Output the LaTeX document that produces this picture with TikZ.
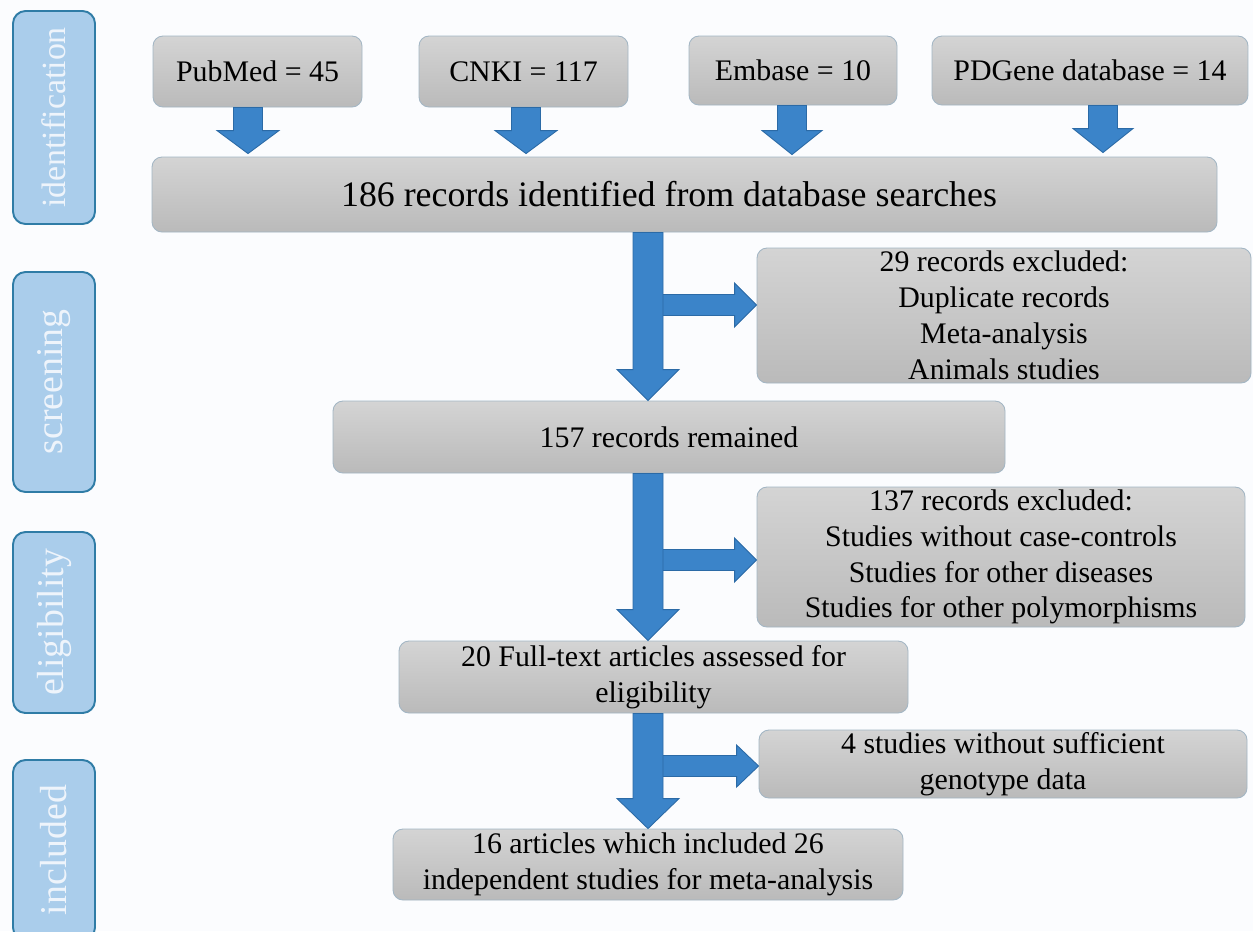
\documentclass[tikz,border=0pt]{standalone}
\usepackage{fontspec}
\setmainfont{Liberation Serif}
\usetikzlibrary{calc}
\definecolor{arrowblue}{HTML}{3B84C9}
\definecolor{arrowedge}{HTML}{2B6AA6}
\definecolor{boxtop}{HTML}{D4D4D4}
\definecolor{boxbot}{HTML}{BABABA}
\definecolor{boxedge}{HTML}{A3B6C4}
\definecolor{sidefill}{HTML}{AACDEB}
\definecolor{sideedge}{HTML}{2F7CA6}
\definecolor{sidetext}{HTML}{EEF4FB}
\definecolor{bgcol}{HTML}{FBFCFE}
\def\PX{0.02cm}
% down block arrow: #1 start, #2 tip, #3 shaft half width, #4 head half width, #5 head length
\newcommand\blkdown[5]{%
  \draw[blk] ($#1+(-#3,0)$) -- ($#2+(-#3,-#5)$) -- ($#2+(-#4,-#5)$) -- #2
    -- ($#2+(#4,-#5)$) -- ($#2+(#3,-#5)$) -- ($#1+(#3,0)$) -- cycle;}
% right block arrow
\newcommand\blkright[5]{%
  \draw[blk] ($#1+(0,-#3)$) -- ($#2+(-#5,-#3)$) -- ($#2+(-#5,-#4)$) -- #2
    -- ($#2+(-#5,#4)$) -- ($#2+(-#5,#3)$) -- ($#1+(0,#3)$) -- cycle;}
\begin{document}
\begin{tikzpicture}[x=0.02cm,y=-0.02cm,
  gbox/.style={draw=boxedge, line width=0.5pt, rounded corners=0.2cm,
    top color=boxtop, bottom color=boxbot, inner sep=0pt, align=center,
    font=\fontsize{17}{20.4}\selectfont, text=black},
  side/.style={draw=sideedge, line width=1.1pt, fill=sidefill, rounded corners=0.25cm,
    inner sep=0pt, rotate=90, minimum height=82*\PX, text=sidetext,
    font=\fontsize{21.5}{24}\selectfont},
  blk/.style={fill=arrowblue, draw=arrowedge, line width=0.5pt, line join=miter}]
\useasboundingbox (0,0) rectangle (1253,931);
\clip (0,0) rectangle (1253,931);
\fill[bgcol] (0,0) rectangle (1253,931);

% phase labels
\node[side, minimum width=213*\PX, font=\fontsize{19.3}{22}\selectfont] (s1) at (54,117.5) {identification};
\node[side, minimum width=220*\PX] (s2) at (54,382) {screening};
\node[side, minimum width=181*\PX] (s3) at (54,622.5) {eligibility};
\node[side, minimum width=180*\PX] (s4) at (54,850) {included};

% source boxes
\node[gbox, minimum width=209*\PX, minimum height=71*\PX] (pub) at (257.5,71.5) {PubMed = 45};
\node[gbox, minimum width=209*\PX, minimum height=71*\PX] (cnki) at (523.5,71.5) {CNKI = 117};
\node[gbox, minimum width=208*\PX, minimum height=69*\PX] (emb) at (793,70.5) {Embase = 10};
\node[gbox, minimum width=316*\PX, minimum height=69*\PX] (pdg) at (1090,70.5) {PDGene database = 14};

% flow boxes
\node[gbox, minimum width=1065*\PX, minimum height=75*\PX, font=\fontsize{20.4}{24}\selectfont] (rec) at (684.5,194.5) {\hspace*{0.62cm}\hspace*{-1.24cm}186 records identified from database searches};
\node[gbox, minimum width=494*\PX, minimum height=135*\PX] (ex1) at (1004,315.5) {29 records excluded:\\Duplicate records\\Meta-analysis\\Animals studies};
\node[gbox, minimum width=672*\PX, minimum height=72*\PX] (r157) at (669,437) {157 records remained};
\node[gbox, minimum width=488*\PX, minimum height=140*\PX] (ex2) at (1001,557) {137 records excluded:\\Studies without case-controls\\Studies for other diseases\\Studies for other polymorphisms};
\node[gbox, minimum width=509*\PX, minimum height=72*\PX] (ft) at (653.5,677) {20 Full-text articles assessed for\\eligibility};
\node[gbox, minimum width=488*\PX, minimum height=68*\PX] (ex3) at (1003,764) {4 studies without sufficient\\genotype data};
\node[gbox, minimum width=510*\PX, minimum height=71*\PX] (inc) at (648,864.5) {16 articles which included 26\\independent studies for meta-analysis};

% top arrows
\coordinate (p1) at ($(pub.south)+(-9.5,0)$);
\coordinate (p1t) at ($(p1 |- rec.north)+(0,-3)$);
\blkdown{(p1)}{(p1t)}{14.5}{31}{23}
\coordinate (p2) at ($(cnki.south)+(2.5,0)$);
\coordinate (p2t) at ($(p2 |- rec.north)+(0,-3)$);
\blkdown{(p2)}{(p2t)}{14.5}{31}{23}
\coordinate (p3) at ($(emb.south)+(-1,0)$);
\coordinate (p3t) at ($(p3 |- rec.north)+(0,-2)$);
\blkdown{(p3)}{(p3t)}{14.5}{30}{24}
\coordinate (p4) at ($(pdg.south)+(13,0)$);
\coordinate (p4t) at ($(p4 |- rec.north)+(0,-4)$);
\blkdown{(p4)}{(p4t)}{14.5}{30}{24}

% side arrows (drawn first, main arrows over them)
\coordinate (b1) at (655,305);
\coordinate (b1t) at (b1 -| ex1.west);
\blkright{(b1)}{(b1t)}{10.5}{22}{22}
\coordinate (b2) at (655,560);
\coordinate (b2t) at (b2 -| ex2.west);
\blkright{(b2)}{(b2t)}{10.5}{22}{22}
\coordinate (b3) at (655,766);
\coordinate (b3t) at (b3 -| ex3.west);
\blkright{(b3)}{(b3t)}{10.5}{21}{22}

% main arrows
\coordinate (m1) at (rec.south -| inc.north);
\coordinate (m1t) at (r157.north -| inc.north);
\blkdown{(m1)}{(m1t)}{15}{31}{31}
\coordinate (m2) at (r157.south -| inc.north);
\coordinate (m2t) at (ft.north -| inc.north);
\blkdown{(m2)}{(m2t)}{15}{31}{31}
\coordinate (m3) at (ft.south -| inc.north);
\coordinate (m3t) at (inc.north);
\blkdown{(m3)}{(m3t)}{15}{31}{30}
\end{tikzpicture}
\end{document}
